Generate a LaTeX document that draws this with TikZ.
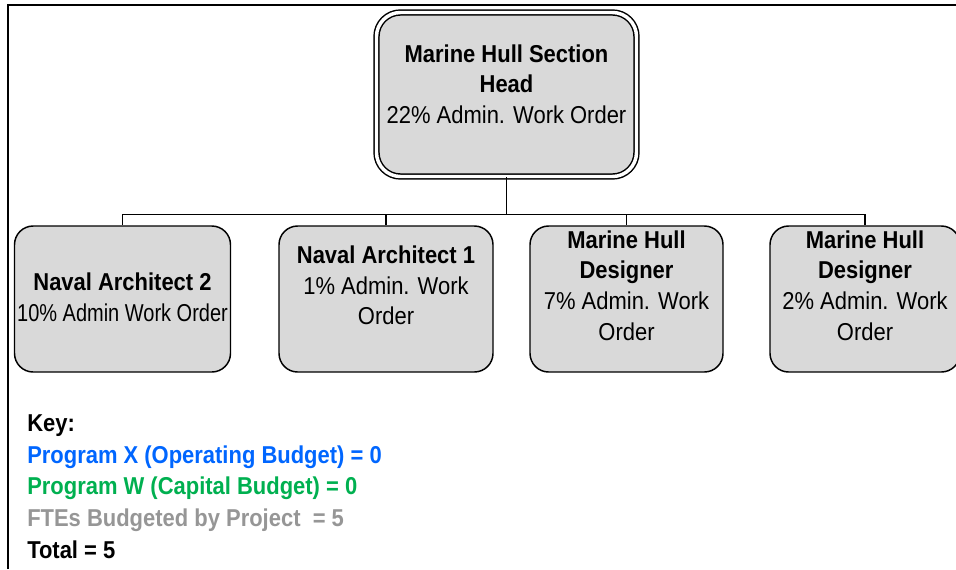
\documentclass[tikz,border=0pt]{standalone}
\usepackage{fontspec}
\setmainfont{Liberation Sans}[FakeStretch=0.9]
\usetikzlibrary{calc}

\definecolor{boxgray}{HTML}{D9D9D9}
\definecolor{keyblue}{HTML}{0066FF}
\definecolor{keygreen}{HTML}{00B050}
\definecolor{keygray}{HTML}{969696}

\begin{document}
\begin{tikzpicture}[x=0.75pt,y=-0.75pt]
% Chart style
\tikzset{
    post/.style={draw, fill=boxgray, rounded corners=14pt, line width=1.1pt, inner sep=0pt},
    posttext/.style={align=center, inner sep=0pt, font=\fontsize{18.3}{23}\selectfont},
    wire/.style={line width=1.1pt}
}
\useasboundingbox (0,0) rectangle (956,569);
% Frame
\draw[line width=1.5pt] (8,569) -- (8,5) -- (956,5);
% Posts
\node[post, double=white, double distance=2.6pt, rounded corners=18pt, minimum width=195pt, minimum height=123pt] (head) at (506.5,94.5){};
\node[post, minimum width=162pt, minimum height=109.5pt] (na2) at (122.5,299){};
\node[post, minimum width=160.5pt, minimum height=109.5pt] (na1) at (386,299){};
\node[post, minimum width=144.75pt, minimum height=109.5pt] (mhd1) at (626.5,299){};
\node[post, minimum width=142.5pt, minimum height=109.5pt] (mhd2) at (865,299){};
% Post texts
\node[posttext] (headtext) at (506.5,84){\textbf{Marine Hull Section}\\\textbf{Head}\\22\% Admin. Work Order};
\node[posttext] (na2text) at (122.5,297.5){\textbf{Naval Architect 2}\\\scalebox{0.91}[1]{10\% Admin Work Order}};
\node[posttext] (na1text) at (386,285.5){\textbf{Naval Architect 1}\\1\% Admin. Work\\Order};
\node[posttext] (mhd1text) at (626.5,285.5){\textbf{Marine Hull}\\\textbf{Designer}\\7\% Admin. Work\\Order};
\node[posttext] (mhd2text) at (865,285.5){\textbf{Marine Hull}\\\textbf{Designer}\\2\% Admin. Work\\Order};
% Connection
\draw[wire] (head.south) -- ++(0,37) coordinate (bus);
\foreach \n in {na2,na1,mhd1,mhd2}
    \draw[wire] (bus) -| (\n.north);
% Key
\node[anchor=west, align=left, inner sep=0pt, font=\fontsize{18.3}{23.8}\selectfont\bfseries] (key) at (27,486.5){Key:\\
    \textcolor{keyblue}{Program X (Operating Budget) = 0}\\
    \textcolor{keygreen}{Program W (Capital Budget) = 0}\\
    \textcolor{keygray}{FTEs Budgeted by Project~ = 5}\\
    Total = 5};
\end{tikzpicture}
\end{document}
